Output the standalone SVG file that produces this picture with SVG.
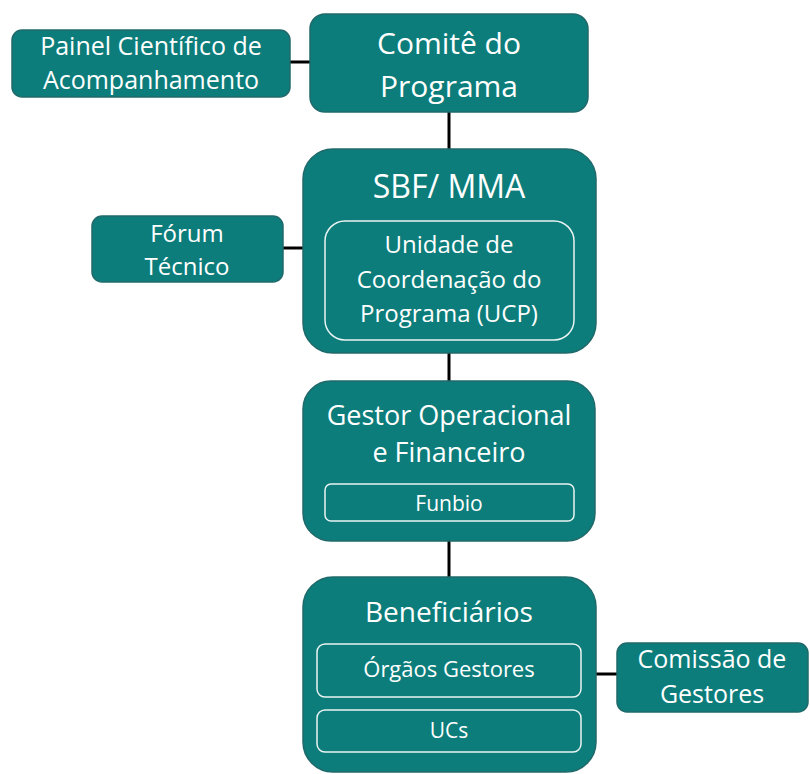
<svg xmlns="http://www.w3.org/2000/svg" width="810" height="774" viewBox="0 0 810 774">
<style>
.box{fill:#0c7d7b;stroke:#20696a;stroke-width:1.5}
.inner{fill:none;stroke:#e8f3f2;stroke-width:1.5}
.t{fill:#ffffff;font-family:"Open Sans","Noto Sans",sans-serif;text-anchor:middle}
.ln{stroke:#000;stroke-width:3;fill:none}
</style>
<rect width="810" height="774" fill="#ffffff"/>
<g id="connectors">
<line class="ln" x1="290" y1="62" x2="310" y2="62"/>
<line class="ln" x1="449" y1="112" x2="449" y2="149"/>
<line class="ln" x1="283" y1="248" x2="303" y2="248"/>
<line class="ln" x1="449" y1="353" x2="449" y2="381"/>
<line class="ln" x1="449" y1="541" x2="449" y2="577"/>
<line class="ln" x1="596" y1="674" x2="617" y2="674"/>
</g>
<g id="painel">
<rect class="box" x="12" y="30" width="278" height="67" rx="10"/>
<text class="t" x="151" y="55" font-size="25">Painel Científico de</text>
<text class="t" x="151" y="89" font-size="25">Acompanhamento</text>
</g>
<g id="comite">
<rect class="box" x="310" y="14" width="278" height="98" rx="15"/>
<text class="t" x="449" y="54" font-size="30">Comitê do</text>
<text class="t" x="449" y="97" font-size="30">Programa</text>
</g>
<g id="sbf">
<rect class="box" x="303" y="149" width="293" height="204" rx="30"/>
<text class="t" x="449" y="198" font-size="32">SBF/ MMA</text>
<rect class="inner" x="325" y="221" width="249" height="119" rx="20"/>
<text class="t" x="449" y="253" font-size="24">Unidade de</text>
<text class="t" x="449" y="288" font-size="24">Coordenação do</text>
<text class="t" x="449" y="322" font-size="24">Programa (UCP)</text>
</g>
<g id="forum">
<rect class="box" x="92" y="216" width="191" height="66" rx="10"/>
<text class="t" x="187" y="242" font-size="24">Fórum</text>
<text class="t" x="187" y="275" font-size="24">Técnico</text>
</g>
<g id="gestor">
<rect class="box" x="303" y="381" width="292" height="160" rx="28"/>
<text class="t" x="449" y="425" font-size="27">Gestor Operacional</text>
<text class="t" x="449" y="462" font-size="27">e Financeiro</text>
<rect class="inner" x="325" y="484" width="249" height="37" rx="6"/>
<text class="t" x="449" y="511" font-size="21">Funbio</text>
</g>
<g id="beneficiarios">
<rect class="box" x="303" y="577" width="293" height="195" rx="30"/>
<text class="t" x="449" y="622" font-size="28">Beneficiários</text>
<rect class="inner" x="317" y="644" width="264" height="53" rx="8"/>
<text class="t" x="449" y="677" font-size="22">Órgãos Gestores</text>
<rect class="inner" x="317" y="710" width="264" height="42" rx="8"/>
<text class="t" x="449" y="738" font-size="21">UCs</text>
</g>
<g id="comissao">
<rect class="box" x="617" y="643" width="191" height="69" rx="10"/>
<text class="t" x="712" y="668" font-size="25">Comissão de</text>
<text class="t" x="712" y="703" font-size="25">Gestores</text>
</g>
</svg>
